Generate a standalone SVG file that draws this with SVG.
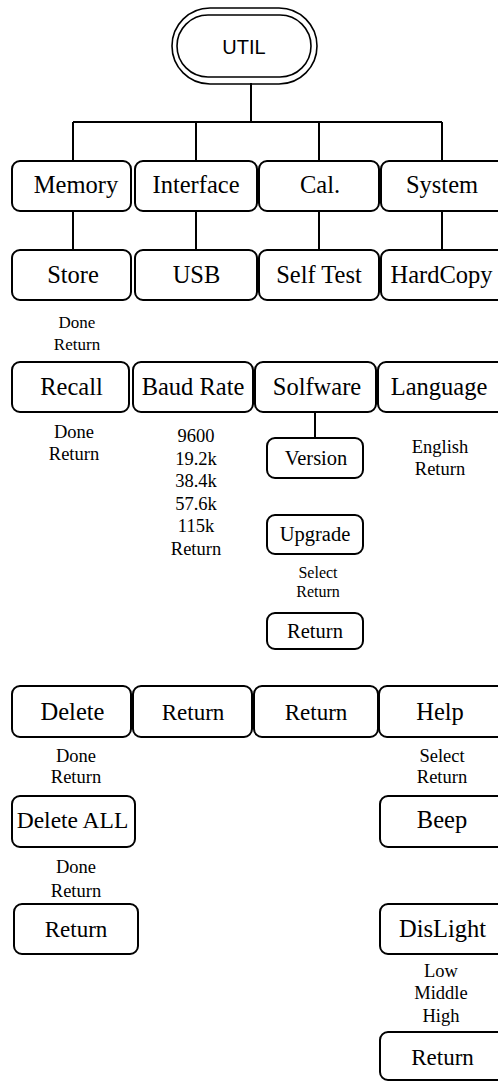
<svg xmlns="http://www.w3.org/2000/svg" width="498" height="1082" viewBox="0 0 498 1082">
<style>
.b{fill:#fff;stroke:#000;stroke-width:2}
.o{fill:none;stroke:#000;stroke-width:1.6}
.c{fill:none;stroke:#000;stroke-width:2}
text{font-family:"Liberation Serif","Times New Roman",serif;fill:#000;text-anchor:middle}
.t{font-size:24.5px}
.r{font-size:23px}
.s{font-size:20.5px}
.l{font-size:18.5px}
.m{font-size:17px}
.u{font-family:"Liberation Sans",Arial,sans-serif;font-size:20px}
</style>
<rect width="498" height="1082" fill="#fff"/>
<g id="connectors">
<path class="c" d="M251 83V122M73 122H442M73 122V161M196 122V161M319 122V161M442 122V161"/>
<path class="c" d="M73 211V250M196 211V250M319 211V250M442 211V250"/>
<path class="c" d="M315 412V438"/>
</g>
<g id="util">
<rect class="o" x="172" y="8" width="145" height="76" rx="38"/>
<rect class="o" x="177" y="15" width="134" height="62" rx="31"/>
<text class="u" x="244" y="54">UTIL</text>
</g>
<g id="memory"><rect class="b" x="12" y="161" width="119" height="50" rx="8"/><text class="t" x="76" y="193">Memory</text></g>
<g id="interface"><rect class="b" x="135" y="161" width="122" height="50" rx="8"/><text class="t" x="196" y="193">Interface</text></g>
<g id="cal"><rect class="b" x="259" y="161" width="120" height="50" rx="8"/><text class="t" x="320" y="193">Cal.</text></g>
<g id="system"><rect class="b" x="381" y="161" width="126" height="50" rx="8"/><text class="t" x="442" y="193">System</text></g>

<g id="store"><rect class="b" x="12" y="250" width="119" height="50" rx="8"/><text class="t" x="73" y="283">Store</text>
<text class="m" x="77" y="328">Done</text><text class="m" x="77" y="350">Return</text></g>
<g id="usb"><rect class="b" x="135" y="250" width="122" height="50" rx="8"/><text class="t" x="196.5" y="283">USB</text></g>
<g id="selftest"><rect class="b" x="259" y="250" width="120" height="50" rx="8"/><text class="t" x="319" y="283">Self Test</text></g>
<g id="hardcopy"><rect class="b" x="381" y="250" width="126" height="50" rx="8"/><text class="t" x="441.5" y="283">HardCopy</text></g>

<g id="recall"><rect class="b" x="12" y="362" width="117" height="50" rx="8"/><text class="t" x="71.5" y="395">Recall</text>
<text class="l" x="74" y="438">Done</text><text class="l" x="74" y="460">Return</text></g>
<g id="baudrate"><rect class="b" x="133" y="362" width="120" height="50" rx="8"/><text class="t" x="193" y="395">Baud Rate</text>
<text class="l" x="196" y="442">9600</text><text class="l" x="196" y="464.6">19.2k</text><text class="l" x="196" y="487.2">38.4k</text><text class="l" x="196" y="509.8">57.6k</text><text class="l" x="196" y="532.4">115k</text><text class="l" x="196" y="555">Return</text></g>
<g id="software"><rect class="b" x="255" y="362" width="121" height="50" rx="8"/><text class="t" x="317" y="395">Solfware</text></g>
<g id="language"><rect class="b" x="378" y="362" width="129" height="50" rx="8"/><text class="t" x="439" y="395">Language</text>
<text class="l" x="440" y="453">English</text><text class="l" x="440" y="475">Return</text></g>

<g id="version"><rect class="b" x="267" y="438" width="96" height="40" rx="8"/><text class="s" x="316" y="465">Version</text></g>
<g id="upgrade"><rect class="b" x="267" y="515" width="96" height="39" rx="8"/><text class="s" x="315" y="541">Upgrade</text>
<text class="m" x="318" y="578" style="font-size:16px">Select</text><text class="m" x="318" y="596.5" style="font-size:16px">Return</text></g>
<g id="sw-return"><rect class="b" x="267" y="613" width="96" height="36" rx="8"/><text class="s" x="315" y="638">Return</text></g>

<g id="delete"><rect class="b" x="12" y="686" width="119" height="51" rx="8"/><text class="t" x="72.5" y="720">Delete</text>
<text class="l" x="76" y="762">Done</text><text class="l" x="76" y="783">Return</text></g>
<g id="if-return"><rect class="b" x="133" y="686" width="119" height="51" rx="8"/><text class="r" x="193" y="720">Return</text></g>
<g id="cal-return"><rect class="b" x="254" y="686" width="124" height="51" rx="8"/><text class="r" x="316" y="720">Return</text></g>
<g id="help"><rect class="b" x="379" y="686" width="128" height="51" rx="8"/><text class="t" x="440" y="720">Help</text>
<text class="l" x="442" y="762">Select</text><text class="l" x="442" y="783">Return</text></g>

<g id="deleteall"><rect class="b" x="12" y="796" width="123" height="51" rx="8"/><text class="t" x="72.5" y="828" style="font-size:23.5px">Delete ALL</text>
<text class="l" x="76" y="873">Done</text><text class="l" x="76" y="897">Return</text></g>
<g id="beep"><rect class="b" x="380" y="796" width="127" height="51" rx="8"/><text class="t" x="442" y="828">Beep</text></g>

<g id="mem-return"><rect class="b" x="14" y="904" width="124" height="50" rx="8"/><text class="r" x="76" y="937">Return</text></g>
<g id="dislight"><rect class="b" x="380" y="904" width="127" height="50" rx="8"/><text class="t" x="442.5" y="937">DisLight</text>
<text class="l" x="441" y="977">Low</text><text class="l" x="441" y="999">Middle</text><text class="l" x="441" y="1022">High</text></g>
<g id="sys-return"><rect class="b" x="380" y="1032" width="127" height="48" rx="8"/><text class="r" x="442.5" y="1065">Return</text></g>
</svg>
